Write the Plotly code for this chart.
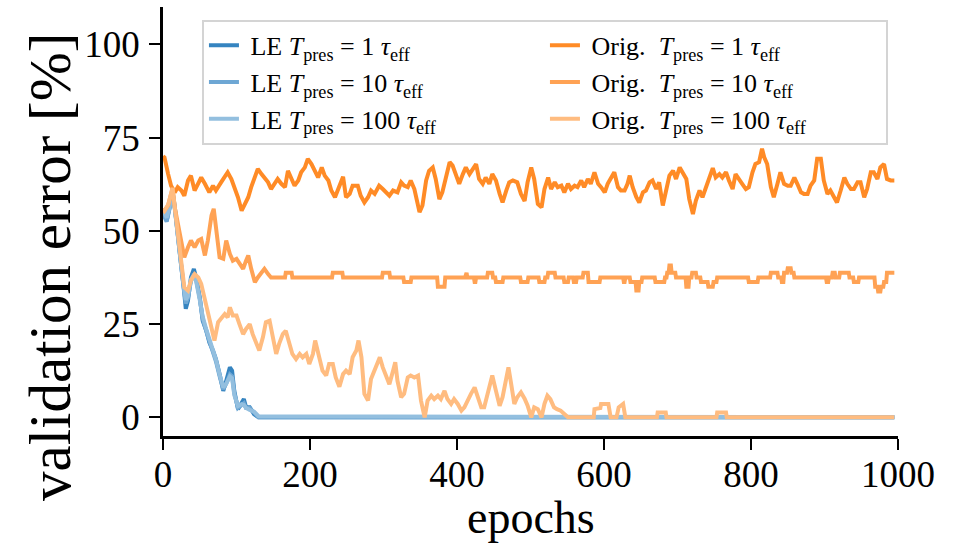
import plotly.graph_objects as go

# ---------------- data ----------------
orig1_epochs = [0, 2, 7, 11, 16, 20, 25, 29, 34, 38, 43, 48, 52, 57, 63, 68, 72, 79, 84, 88, 93, 97,
                102, 107, 111, 116, 120, 125, 129, 134, 138, 143, 147, 152, 156, 161, 166, 170, 175,
                179, 184, 188, 193, 197, 202, 207, 211, 216, 220, 225, 229, 234, 238, 245, 249, 254,
                258, 265, 269, 274, 279, 283, 288, 294, 299, 303, 308, 313, 319, 324, 328, 333, 337,
                342, 347, 349, 353, 358, 362, 367, 371, 376, 380, 385, 390, 394, 399, 403, 408, 412,
                417, 421, 426, 430, 435, 439, 444, 448, 453, 458, 462, 467, 471, 476, 482, 487, 492,
                496, 501, 505, 510, 515, 519, 524, 528, 533, 537, 542, 546, 551, 555, 560, 564, 569,
                573, 578, 582, 587, 592, 596, 601, 605, 610, 614, 619, 623, 628, 632, 635, 639, 644,
                648, 653, 657, 662, 666, 671, 675, 680, 684, 689, 694, 698, 703, 707, 712, 716, 721,
                725, 730, 734, 739, 743, 748, 752, 757, 761, 766, 770, 775, 779, 784, 788, 793, 797,
                802, 806, 811, 815, 818, 822, 827, 831, 836, 840, 845, 850, 854, 859, 863, 868, 872,
                877, 881, 886, 890, 895, 899, 904, 908, 913, 917, 922, 927, 931, 936, 940, 945, 949,
                954, 958, 963, 967, 972, 976, 981, 985, 990, 995]
orig1_err = [70.0, 69.7, 65.2, 62.1, 60.3, 61.7, 60.8, 59.4, 63.5, 64.8, 60.8, 63.0, 64.3, 62.6, 60.3,
             62.1, 60.8, 63.0, 64.3, 65.7, 63.9, 61.7, 59.0, 55.4, 56.8, 59.0, 61.7, 64.3, 66.6, 65.2,
             64.3, 63.0, 61.2, 62.6, 63.9, 62.6, 61.7, 66.1, 63.5, 62.1, 63.5, 65.7, 67.0, 69.3, 67.9,
             65.7, 64.3, 67.0, 64.8, 63.5, 60.8, 59.0, 60.8, 64.5, 59.0, 59.9, 62.1, 62.1, 59.4, 57.6,
             59.0, 60.8, 59.9, 62.1, 61.2, 60.3, 59.4, 60.8, 60.3, 63.0, 62.1, 61.7, 63.5, 61.2, 56.8,
             55.0, 56.8, 63.5, 66.1, 67.0, 63.9, 58.5, 60.3, 64.3, 68.4, 67.5, 64.3, 62.6, 65.2, 67.0,
             65.2, 66.6, 67.9, 63.9, 62.6, 64.3, 62.6, 65.2, 63.5, 59.9, 57.6, 60.8, 63.0, 63.5, 63.0,
             59.9, 58.0, 63.0, 67.0, 63.9, 57.2, 56.3, 61.2, 64.3, 61.2, 63.0, 61.7, 62.1, 60.3, 62.6,
             61.2, 62.1, 61.7, 63.5, 61.7, 63.9, 62.6, 65.7, 62.6, 61.7, 60.3, 62.6, 64.3, 65.7, 61.7,
             60.8, 60.8, 62.6, 64.8, 61.7, 59.0, 57.6, 60.3, 60.8, 63.0, 63.5, 61.2, 63.0, 56.8, 59.9,
             64.8, 66.1, 63.9, 67.0, 65.7, 63.9, 58.5, 54.5, 58.1, 60.8, 59.0, 61.7, 63.5, 66.8, 64.3,
             65.2, 64.3, 65.7, 63.5, 61.2, 65.2, 63.5, 62.6, 61.2, 61.7, 65.7, 67.9, 68.4, 72.0, 69.7,
             67.9, 61.7, 59.0, 62.6, 65.7, 62.6, 62.1, 62.1, 64.3, 62.6, 60.3, 59.9, 59.9, 62.1, 63.5,
             69.3, 69.3, 63.5, 59.9, 60.8, 59.0, 57.6, 60.8, 64.3, 62.6, 61.2, 61.2, 63.0, 63.0, 59.0,
             61.2, 65.7, 65.7, 63.9, 67.0, 67.9, 63.9, 63.5, 63.5]

# Orig. T=10: noisy start, then a plateau made of steps (start epoch, end epoch, value)
orig10_head_epochs = [0, 2, 7, 11, 13, 16, 20, 25, 29, 34, 38, 43, 48, 52, 57, 61, 66, 69, 73, 77, 82,
                      86, 91, 95, 100, 104, 109, 113, 116, 120, 125, 129, 134, 138, 143]
orig10_head_err = [56.0, 55.4, 56.8, 60.8, 61.5, 56.3, 51.8, 47.4, 42.9, 45.6, 47.4, 45.6, 47.4, 47.8,
                   43.4, 47.4, 54.1, 55.9, 49.2, 42.9, 42.5, 47.4, 43.8, 42.0, 42.5, 41.1, 39.8, 42.0,
                   43.4, 39.8, 36.2, 37.5, 38.9, 39.8, 38.4]
orig10_step_start = [147, 167, 176, 231, 245, 299, 309, 328, 338, 374, 384, 412, 414, 424, 426, 442,
                     449, 453, 463, 487, 497, 501, 512, 520, 524, 534, 546, 552, 559, 563, 572, 579,
                     595, 627, 629, 636, 644, 648, 652, 670, 683, 686, 689, 692, 698, 712, 716, 720,
                     726, 732, 742, 749, 754, 797, 810, 827, 837, 842, 845, 850, 855, 859, 903, 906,
                     911, 915, 921, 934, 940, 947, 969, 973, 977, 981, 985]
orig10_step_end = [166, 175, 230, 244, 298, 308, 327, 337, 373, 383, 411, 413, 423, 425, 441, 448,
                   452, 462, 486, 496, 500, 511, 519, 523, 533, 545, 551, 558, 562, 571, 578, 594,
                   626, 628, 635, 643, 647, 651, 669, 682, 685, 688, 691, 697, 711, 715, 719, 725,
                   731, 741, 748, 753, 796, 809, 826, 836, 841, 844, 849, 854, 858, 902, 905, 910,
                   914, 920, 933, 939, 946, 968, 972, 976, 980, 984, 995]
orig10_step_err = [37.5, 38.75, 37.5, 38.75, 37.5, 38.75, 37.5, 36.25, 37.5, 35.0, 37.5, 38.75, 37.5,
                   36.25, 37.5, 38.75, 37.5, 36.25, 37.5, 36.25, 37.5, 37.5, 36.25, 37.5, 38.75, 37.5,
                   36.25, 37.5, 36.25, 37.5, 38.75, 36.25, 37.5, 36.25, 37.5, 36.25, 34.0, 36.25, 37.5,
                   36.25, 37.5, 38.75, 40.7, 38.75, 37.5, 35.0, 37.5, 38.75, 37.5, 36.25, 35.0, 36.25,
                   37.5, 36.25, 37.5, 38.75, 37.5, 36.25, 38.75, 40.0, 38.75, 37.5, 36.25, 37.5, 38.75,
                   37.5, 38.75, 37.5, 36.25, 37.5, 35.0, 33.75, 35.0, 36.25, 38.75]

orig100_epochs = [0, 2, 7, 11, 13, 16, 20, 25, 29, 34, 38, 43, 48, 52, 57, 61, 66, 70, 75, 79, 84, 88,
                  91, 95, 100, 104, 109, 113, 118, 122, 127, 131, 136, 140, 145, 149, 154, 158, 163,
                  167, 172, 176, 181, 186, 190, 195, 199, 204, 207, 213, 217, 222, 226, 231, 235, 240,
                  245, 249, 254, 258, 263, 266, 270, 274, 279, 283, 288, 292, 295, 299, 303, 308, 313,
                  316, 319, 324, 328, 333, 337, 342, 347, 351, 356, 360, 365, 369, 374, 378, 383, 387,
                  392, 396, 401, 406, 410, 415, 419, 424, 428, 433, 437, 442, 446, 448, 453, 458, 462,
                  467, 470, 473, 478, 482, 487, 492, 496, 501, 505, 510, 515, 519, 523, 527, 532, 536,
                  541, 546, 551, 586, 587, 595, 596, 606, 609, 617, 620, 626, 629, 672, 673, 684, 685,
                  753, 754, 766, 767, 995]
orig100_err = [56.0, 55.4, 57.0, 60.8, 61.5, 56.3, 50.0, 42.0, 34.9, 34.0, 36.7, 38.4, 37.5, 35.8, 31.3,
               27.7, 23.2, 20.6, 25.5, 26.4, 27.7, 26.8, 29.5, 27.3, 27.3, 25.0, 22.3, 23.7, 25.0, 22.3,
               19.7, 17.9, 21.5, 25.5, 25.9, 22.3, 17.0, 19.7, 22.3, 23.2, 19.7, 17.0, 15.6, 17.0, 16.1,
               17.0, 14.3, 17.0, 20.6, 16.1, 12.5, 11.2, 14.3, 14.3, 10.7, 8.2, 11.6, 12.5, 11.6, 16.1,
               17.9, 20.6, 16.1, 6.3, 4.5, 10.3, 12.5, 14.3, 16.1, 13.4, 11.6, 8.9, 12.5, 14.8, 9.8, 5.4,
               6.3, 10.7, 11.2, 10.7, 11.2, 4.5, 0.0, 4.5, 5.8, 4.9, 5.8, 4.9, 7.1, 4.9, 3.6, 4.9, 3.6,
               1.8, 2.7, 4.9, 6.3, 8.0, 5.4, 2.7, 2.7, 6.3, 8.9, 11.2, 7.1, 3.1, 5.4, 10.3, 13.4, 9.8,
               3.6, 5.4, 6.7, 5.0, 3.2, 0.0, 2.7, 2.2, 0.0, 3.6, 5.8, 4.9, 2.7, 2.2, 1.8, 0.9, 0.0, 0.0,
               2.2, 2.5, 3.6, 3.6, 0.0, 0.0, 2.7, 3.6, 0.0, 0.0, 1.3, 1.3, 0.0, 0.0, 1.3, 1.3, 0.0, 0.0]

le_epochs = [0, 2, 5, 9, 13, 16, 20, 25, 29, 31, 34, 38, 42, 45, 50, 54, 59, 63, 68, 72, 77, 82, 86,
             91, 94, 97, 102, 107, 110, 113, 118, 124, 130, 995]
le1_err = [55.0, 54.1, 52.7, 56.3, 60.3, 56.3, 48.3, 40.2, 33.1, 29.1, 31.3, 37.5, 39.8, 37.5, 32.2,
           25.9, 23.2, 20.1, 17.9, 15.6, 11.6, 7.1, 9.8, 13.4, 12.5, 7.1, 2.2, 3.6, 4.9, 2.7, 2.7, 0.8,
           0.0, 0.0]
le10_err = [54.5, 53.5, 52.5, 56.0, 60.0, 56.0, 48.0, 40.0, 33.5, 30.5, 32.0, 36.5, 38.5, 37.0, 32.0,
            26.5, 23.0, 20.5, 18.0, 15.0, 11.0, 7.5, 9.0, 11.5, 11.0, 6.5, 2.5, 3.5, 3.8, 2.5, 2.5, 1.3,
            0.0, 0.0]
le100_err = [55.5, 54.5, 53.5, 56.5, 60.5, 56.5, 48.5, 40.5, 34.0, 31.5, 32.5, 37.0, 38.0, 36.5, 31.5,
             27.0, 23.5, 21.0, 18.5, 15.5, 11.5, 8.0, 9.0, 11.0, 10.5, 6.0, 3.0, 3.5, 3.3, 2.5, 2.0, 1.5,
             0.3, 0.0]

x_ticks = [0, 200, 400, 600, 800, 1000]
y_ticks = [0, 25, 50, 75, 100]

# plateau steps -> points
orig10_epochs = list(orig10_head_epochs)
orig10_err = list(orig10_head_err)
for s, e, v in zip(orig10_step_start, orig10_step_end, orig10_step_err):
    orig10_epochs += [s, e]
    orig10_err += [v, v]

# ---------------- figure ----------------
W, H = 967, 546
ML, MR, MT, MB = 163, 69, 7, 110
FONT = "Liberation Serif"

def lab(prefix, n):
    return f"\u00a0{prefix} <i>T</i><sub>pres</sub> = {n} <i>τ</i><sub>eff</sub>"

series = [
    ("LE", "1", le_epochs, le1_err, "#3584c0", 1),
    ("LE", "10", le_epochs, le10_err, "#6ea7d4", 3),
    ("LE", "100", le_epochs, le100_err, "#93bfdf", 5),
    ("Orig.\u00a0", "1", orig1_epochs, orig1_err, "#ff8b26", 2),
    ("Orig.\u00a0", "10", orig10_epochs, orig10_err, "#ffa254", 4),
    ("Orig.\u00a0", "100", orig100_epochs, orig100_err, "#ffbc80", 6),
]

fig = go.Figure()
for prefix, n, xs, ys, col, rank in series:
    fig.add_trace(go.Scatter(x=xs, y=ys, mode="lines", name=lab(prefix, n),
                             line=dict(color=col, width=4), legendrank=rank))

axis_common = dict(showline=True, linecolor="black", linewidth=2.5, ticks="outside",
                   ticklen=11, tickwidth=2.3, tickcolor="black", showgrid=False, zeroline=False,
                   tickfont=dict(family=FONT, size=37, color="black"))

fig.update_layout(
    width=W, height=H,
    margin=dict(l=ML, r=MR, t=MT, b=MB, pad=0),
    paper_bgcolor="white", plot_bgcolor="white",
    font=dict(family=FONT, color="black"),
    xaxis=dict(range=[0, 1000], tickvals=x_ticks, ticktext=[str(t) for t in x_ticks],
               ticklabelstandoff=-7, **axis_common),
    yaxis=dict(range=[-5, 110], tickvals=y_ticks, ticktext=[str(t) for t in y_ticks],
               ticklabelstandoff=2, **axis_common),
    legend=dict(orientation="h", x=0.053, y=0.97, xanchor="left", yanchor="top",
                entrywidth=296, entrywidthmode="pixels",
                bgcolor="rgba(255,255,255,0.85)", bordercolor="#d4d4d4", borderwidth=2,
                font=dict(family=FONT, size=26, color="black")),
    showlegend=True,
)

pw = W - ML - MR
ph = H - MT - MB
def px_to_paper(xp, yp):
    return (xp - ML) / pw, 1 - (yp - MT) / ph

ax, ay = px_to_paper(531, 517)
fig.add_annotation(text="epochs", x=ax, y=ay, xref="paper", yref="paper", showarrow=False,
                   xanchor="center", yanchor="middle", font=dict(family=FONT, size=46, color="black"))
bx, by = px_to_paper(50, 267)
fig.add_annotation(text="validation error [%]", x=bx, y=by, xref="paper", yref="paper",
                   showarrow=False, textangle=-90, xanchor="center", yanchor="middle",
                   font=dict(family=FONT, size=59, color="black"))
# top of the next panel's tick label, cut by the image edge
cx, cy = px_to_paper(140, 541)
fig.add_annotation(text="100", x=cx, y=cy, xref="paper", yref="paper", showarrow=False,
                   xanchor="right", yanchor="top", font=dict(family=FONT, size=37, color="black"))

fig.write_html("out.html")
